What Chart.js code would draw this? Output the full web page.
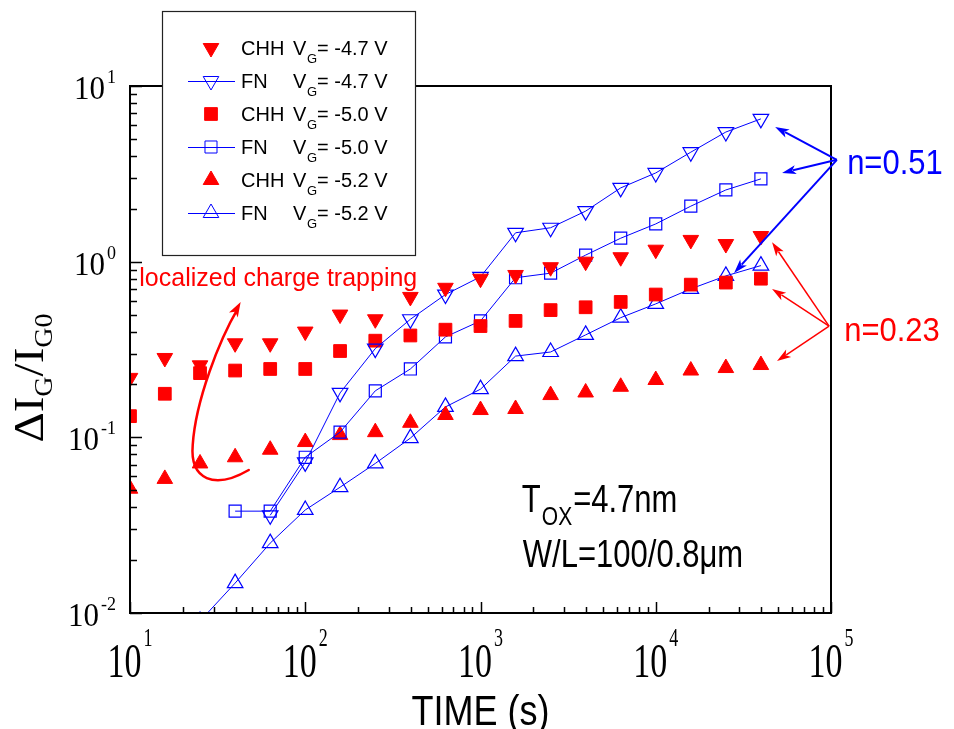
<!DOCTYPE html>
<html>
<head>
<meta charset="utf-8">
<script src="https://cdn.jsdelivr.net/npm/chart.js@4.4.0/dist/chart.umd.min.js"></script>
<style>
  html, body { margin: 0; padding: 0; background: #fff; }
</style>
</head>
<body>
<canvas id="chart" width="954" height="729"></canvas>
<script>
// measurement times (s), 5 points per decade
const times = [10, 15.8, 25.1, 39.8, 63.1, 100, 158, 251, 398, 631, 1000, 1585, 2512, 3981, 6310, 10000, 15849, 25119, 39811];

// dIG/IG0 (null = no point)
const chh47 = [0.218, 0.283, 0.257, 0.343, 0.343, 0.40, 0.50, 0.47, 0.63, 0.71, 0.80, 0.84, 0.93, 1.0, 1.06, 1.17, 1.33, 1.26, 1.40];
const fn47 = [null, null, null, null, 0.036, 0.072, 0.179, 0.32, 0.47, 0.65, 0.82, 1.46, 1.56, 1.94, 2.63, 3.2, 4.2, 5.47, 6.5];
const chh50 = [0.132, 0.177, 0.232, 0.24, 0.245, 0.245, 0.31, 0.355, 0.38, 0.41, 0.43, 0.46, 0.53, 0.55, 0.59, 0.65, 0.74, 0.76, 0.80];
const fn50 = [null, null, null, 0.038, 0.038, 0.077, 0.107, 0.184, 0.245, 0.373, 0.46, 0.81, 0.86, 1.09, 1.36, 1.64, 2.07, 2.56, 2.96];
const chh52 = [0.051, 0.058, 0.071, 0.077, 0.085, 0.094, 0.103, 0.107, 0.121, 0.134, 0.143, 0.145, 0.174, 0.18, 0.194, 0.212, 0.24, 0.248, 0.258];
const fn52 = [null, null, 0.009, 0.0148, 0.025, 0.0386, 0.052, 0.071, 0.099, 0.149, 0.188, 0.29, 0.306, 0.383, 0.48, 0.575, 0.70, 0.83, 0.95];

const seriesLabels = ['CHH', 'FN', 'CHH', 'FN', 'CHH', 'FN'];
const gateVoltages = ['-4.7', '-4.7', '-5.0', '-5.0', '-5.2', '-5.2'];

const xTickExps = [1, 2, 3, 4, 5];
const yTickExps = [-2, -1, 0, 1];

const RED = '#ff0000';
const BLUE = '#0000ff';

function pts(vals) {
    const out = [];
    vals.forEach((v, i) => { if (v !== null) out.push({ x: times[i], y: v }); });
    return out;
}

function chhSet(label, vals, style, rot) {
    return {
        label, data: pts(vals), showLine: false, clip: 0,
        pointStyle: style, pointRotation: rot, pointRadius: 9,
        pointBackgroundColor: RED, pointBorderColor: RED, pointBorderWidth: 1
    };
}

function fnSet(label, vals, style, rot, r) {
    return {
        label, data: pts(vals), showLine: true, clip: 0, tension: 0,
        borderColor: BLUE, borderWidth: 1,
        pointStyle: style, pointRotation: rot, pointRadius: r,
        pointBackgroundColor: 'rgba(0,0,0,0)', pointBorderColor: BLUE, pointBorderWidth: 1.2
    };
}

// annotation arrows in data units: [from, to]
const blueArrows = [
    [[108000, 3.8], [48000, 5.85]],
    [[108000, 3.8], [52600, 3.2]],
    [[108000, 3.8], [28000, 0.863]]
];
const redArrows = [
    [[97500, 0.43], [46100, 1.29]],
    [[97500, 0.43], [46100, 0.70]],
    [[97500, 0.43], [49200, 0.272]]
];
// curved arrow (bezier) for the "localized charge trapping" note
const curvePts = [[47.6, 0.0652], [30.4, 0.0502], [21.9, 0.0572], [22.8, 0.0905], [23.7, 0.163], [32.4, 0.358], [42.8, 0.59]];

// draws text stretched vertically like the original figure
function stretchText(ctx, txt, x, y, font, color, sy, align) {
    ctx.save();
    ctx.font = font;
    ctx.fillStyle = color;
    ctx.textAlign = align || 'left';
    ctx.textBaseline = 'alphabetic';
    ctx.translate(x, y);
    ctx.scale(1, sy);
    ctx.fillText(txt, 0, 0);
    ctx.restore();
}

function textWidth(ctx, txt, font) {
    ctx.font = font;
    return ctx.measureText(txt).width;
}

function arrow(ctx, x1, y1, x2, y2, color, lw, len, wid) {
    const ang = Math.atan2(y2 - y1, x2 - x1);
    ctx.save();
    ctx.strokeStyle = color;
    ctx.fillStyle = color;
    ctx.lineWidth = lw;
    ctx.beginPath();
    ctx.moveTo(x1, y1);
    ctx.lineTo(x2 - Math.cos(ang) * len * 0.8, y2 - Math.sin(ang) * len * 0.8);
    ctx.stroke();
    arrowHead(ctx, x2, y2, ang, len, wid);
    ctx.restore();
}

function arrowHead(ctx, x, y, ang, len, wid) {
    ctx.beginPath();
    ctx.moveTo(x, y);
    ctx.lineTo(x - Math.cos(ang) * len + Math.sin(ang) * wid / 2, y - Math.sin(ang) * len - Math.cos(ang) * wid / 2);
    ctx.lineTo(x - Math.cos(ang) * len * 0.75, y - Math.sin(ang) * len * 0.75);
    ctx.lineTo(x - Math.cos(ang) * len - Math.sin(ang) * wid / 2, y - Math.sin(ang) * len + Math.cos(ang) * wid / 2);
    ctx.closePath();
    ctx.fill();
}

const decor = {
    id: 'decor',
    afterDraw(chart) {
        const ctx = chart.ctx;
        const xs = chart.scales.x, ys = chart.scales.y;
        const a = chart.chartArea;
        const P = v => [xs.getPixelForValue(v[0]), ys.getPixelForValue(v[1])];

        // frame
        ctx.save();
        ctx.strokeStyle = '#000';
        ctx.lineWidth = 2;
        ctx.strokeRect(a.left, a.top, a.right - a.left, a.bottom - a.top);

        // inward ticks on left and bottom
        ctx.lineWidth = 1.5;
        ctx.beginPath();
        for (let e = -2; e <= 1; e++) {
            for (let m = 1; m <= 9; m++) {
                const v = m * Math.pow(10, e);
                if (v > 10) break;
                const y = Math.round(ys.getPixelForValue(v)) + 0.5;
                const len = m === 1 ? 12 : 7;
                ctx.moveTo(a.left, y); ctx.lineTo(a.left + len, y);
            }
        }
        for (let e = 1; e <= 5; e++) {
            for (let m = 1; m <= 9; m++) {
                const v = m * Math.pow(10, e);
                if (v > 100000) break;
                const x = Math.round(xs.getPixelForValue(v)) + 0.5;
                const len = m === 1 ? 11 : 6;
                ctx.moveTo(x, a.bottom); ctx.lineTo(x, a.bottom - len);
            }
        }
        ctx.stroke();
        ctx.restore();

        // y tick labels
        const yBig = '31px "Liberation Serif", "Times New Roman", serif';
        const ySup = '18px "Liberation Serif", "Times New Roman", serif';
        yTickExps.forEach(e => {
            const y = ys.getPixelForValue(Math.pow(10, e));
            const sup = String(e);
            const sw = textWidth(ctx, sup, ySup);
            const right = 116;
            stretchText(ctx, sup, right - sw, y - 3, ySup, '#000', 1.1);
            stretchText(ctx, '10', right - sw - 2, y + 13, yBig, '#000', 1.1, 'right');
        });

        // x tick labels
        const xBig = '34px "Liberation Serif", "Times New Roman", serif';
        const xSup = '18px "Liberation Serif", "Times New Roman", serif';
        xTickExps.forEach(e => {
            const x = xs.getPixelForValue(Math.pow(10, e));
            const sup = String(e);
            const bw = textWidth(ctx, '10', xBig);
            const sw = textWidth(ctx, sup, xSup);
            const left = x - (bw + sw + 2) / 2;
            stretchText(ctx, '10', left, 677, xBig, '#000', 1.45);
            stretchText(ctx, sup, left + bw + 2, 646, xSup, '#000', 1.45);
        });

        // axis titles
        stretchText(ctx, 'TIME (s)', (a.left + a.right) / 2, 725, '36px "Liberation Sans", Arial, sans-serif', '#000', 1.2, 'center');

        ctx.save();
        ctx.translate(43, 378);
        ctx.rotate(-Math.PI / 2);
        ctx.scale(1.12, 1);
        const tBig = '42px "Liberation Serif", "Times New Roman", serif';
        const tSub = '25px "Liberation Serif", "Times New Roman", serif';
        const parts = [['\u0394I', tBig, 0], ['G', tSub, 9], ['/I', tBig, 0], ['G0', tSub, 9]];
        let total = 0;
        parts.forEach(p => { total += textWidth(ctx, p[0], p[1]); });
        let cx = -total / 2;
        ctx.fillStyle = '#000';
        ctx.textBaseline = 'alphabetic';
        parts.forEach(p => {
            ctx.font = p[1];
            ctx.fillText(p[0], cx, p[2]);
            cx += ctx.measureText(p[0]).width;
        });
        ctx.restore();

        // arrows
        blueArrows.forEach(ar => {
            const f = P(ar[0]), t = P(ar[1]);
            arrow(ctx, f[0], f[1], t[0], t[1], BLUE, 2, 14, 9);
        });
        redArrows.forEach(ar => {
            const f = P(ar[0]), t = P(ar[1]);
            arrow(ctx, f[0], f[1], t[0], t[1], RED, 1.5, 14, 9);
        });

        // curved arrow
        const c = curvePts.map(P);
        ctx.save();
        ctx.strokeStyle = RED;
        ctx.fillStyle = RED;
        ctx.lineWidth = 2.5;
        ctx.lineCap = 'round';
        ctx.beginPath();
        ctx.moveTo(c[0][0], c[0][1]);
        ctx.bezierCurveTo(c[1][0], c[1][1], c[2][0], c[2][1], c[3][0], c[3][1]);
        ctx.bezierCurveTo(c[4][0], c[4][1], c[5][0], c[5][1], c[6][0] - 3, c[6][1] + 7);
        ctx.stroke();
        arrowHead(ctx, c[6][0], c[6][1], Math.atan2(c[6][1] - c[5][1], c[6][0] - c[5][0]), 15, 10);
        ctx.restore();

        // text notes
        const sans = '"Liberation Sans", Arial, sans-serif';
        const locPos = P([11.3, 0.728]);
        stretchText(ctx, 'localized charge trapping', locPos[0], locPos[1], '25px ' + sans, RED, 1.05);
        const n1 = P([123600, 3.15]);
        stretchText(ctx, 'n=0.51', n1[0], n1[1], '31px ' + sans, BLUE, 1.15);
        const n2 = P([118900, 0.354]);
        stretchText(ctx, 'n=0.23', n2[0], n2[1], '31px ' + sans, RED, 1.1);

        const tp = P([1722, 0.0376]);
        stretchText(ctx, 'T', tp[0], tp[1], '31px ' + sans, '#000', 1.25);
        const tw = textWidth(ctx, 'T', '31px ' + sans);
        stretchText(ctx, 'OX', tp[0] + tw + 1, tp[1] + 13, '21px ' + sans, '#000', 1.25);
        const ow = textWidth(ctx, 'OX', '21px ' + sans);
        stretchText(ctx, '=4.7nm', tp[0] + tw + ow + 2, tp[1], '31px ' + sans, '#000', 1.25);
        const wp = P([1722, 0.0183]);
        stretchText(ctx, 'W/L=100/0.8\u03bcm', wp[0] + 1, wp[1], '31px ' + sans, '#000', 1.25);

        // legend box
        ctx.save();
        ctx.fillStyle = '#fff';
        ctx.strokeStyle = '#222';
        ctx.lineWidth = 1.2;
        ctx.fillRect(162, 11, 254, 244);
        ctx.strokeRect(162.5, 11.5, 253, 244);
        ctx.restore();

        chart.data.datasets.forEach((ds, i) => {
            const cy = 48 + i * 33;
            const mx = 211;
            ctx.save();
            if (ds.showLine) {
                ctx.strokeStyle = BLUE;
                ctx.lineWidth = 1;
                ctx.beginPath();
                ctx.moveTo(188, cy + 0.5); ctx.lineTo(235, cy + 0.5);
                ctx.stroke();
            }
            ctx.fillStyle = ds.pointBackgroundColor;
            ctx.strokeStyle = ds.pointBorderColor;
            Chart.helpers.drawPoint(ctx, {
                pointStyle: ds.pointStyle, rotation: ds.pointRotation,
                radius: ds.pointRadius, borderWidth: ds.pointBorderWidth
            }, mx, cy);
            ctx.restore();
            const f20 = '20px ' + sans;
            stretchText(ctx, seriesLabels[i], 241, cy + 7, f20, '#000', 1.05);
            stretchText(ctx, 'V', 293, cy + 7, f20, '#000', 1.05);
            stretchText(ctx, 'G', 307, cy + 15, '13px ' + sans, '#000', 1.05);
            stretchText(ctx, '= ' + gateVoltages[i] + ' V', 317, cy + 7, f20, '#000', 1.05);
        });
    }
};

new Chart(document.getElementById('chart'), {
    type: 'line',
    data: {
        datasets: [
            chhSet('CHH VG= -4.7 V', chh47, 'triangle', 180),
            fnSet('FN VG= -4.7 V', fn47, 'triangle', 180, 9),
            chhSet('CHH VG= -5.0 V', chh50, 'rect', 0),
            fnSet('FN VG= -5.0 V', fn50, 'rect', 0, 8.5),
            chhSet('CHH VG= -5.2 V', chh52, 'triangle', 0),
            fnSet('FN VG= -5.2 V', fn52, 'triangle', 0, 9)
        ]
    },
    options: {
        responsive: false,
        animation: false,
        layout: { padding: { left: 130, right: 123, top: 86, bottom: 116 } },
        plugins: { legend: { display: false }, tooltip: { enabled: false } },
        scales: {
            x: { type: 'logarithmic', min: 10, max: 100000, display: false },
            y: { type: 'logarithmic', min: 0.01, max: 10, display: false }
        }
    },
    plugins: [decor]
});
</script>
</body>
</html>
